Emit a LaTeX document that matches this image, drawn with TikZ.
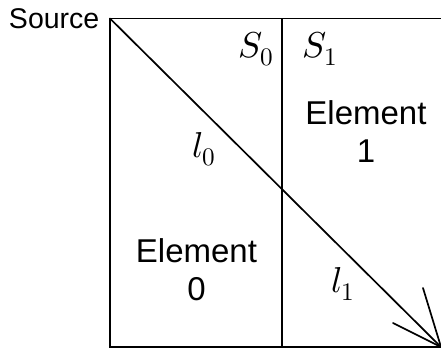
\documentclass[tikz,border=0pt]{standalone}
\usepackage{fontspec}
\usepackage{unicode-math}
\setmainfont{Liberation Sans}
\setmathfont{Latin Modern Math}
\begin{document}
\begin{tikzpicture}[x=1pt,y=-1pt,
  edge/.style={line width=1.7pt,black},
  lbl/.style={inner sep=0pt,font=\fontsize{33}{38}\selectfont,align=center,anchor=base},
  srclbl/.style={inner sep=0pt,font=\fontsize{28.5}{32}\selectfont,anchor=base east},
  mathlbl/.style={inner sep=0pt,font=\fontsize{36}{40}\selectfont,anchor=base west}]
\useasboundingbox (0,0) rectangle (441,349);
\clip (0,0) rectangle (441,349);
\coordinate (tl) at (110,18.5);
\coordinate (tr) at (450,18.5);
\coordinate (bl) at (110,347);
\coordinate (br) at (450,347);
\coordinate (dt) at (282,18.5);
\coordinate (db) at (282,347);
\coordinate (tip) at (441,347);
\coordinate (h1) at (423,288);
\coordinate (h2) at (393,323);
\draw[edge] (tr) -- (tl) -- (bl) -- (br);
\draw[edge] (dt) -- (db);
\draw[edge,line cap=round] (tl) -- (tip);
\draw[edge,line cap=round] (h1) -- (tip);
\draw[edge,line cap=round] (h2) -- (tip);
\node[srclbl] (src) at (99.5,28) {Source};
\node[lbl] (e0) at (196.5,300) {Element\\0};
\node[lbl] (e1) at (366,162) {Element\\1};
\node[mathlbl] (s0) at (238,57) {$S_0$};
\node[mathlbl] (s1) at (302,57) {$S_1$};
\node[mathlbl] (l0) at (192,157) {$l_0$};
\node[mathlbl] (l1) at (331,292) {$l_1$};
\end{tikzpicture}
\end{document}
